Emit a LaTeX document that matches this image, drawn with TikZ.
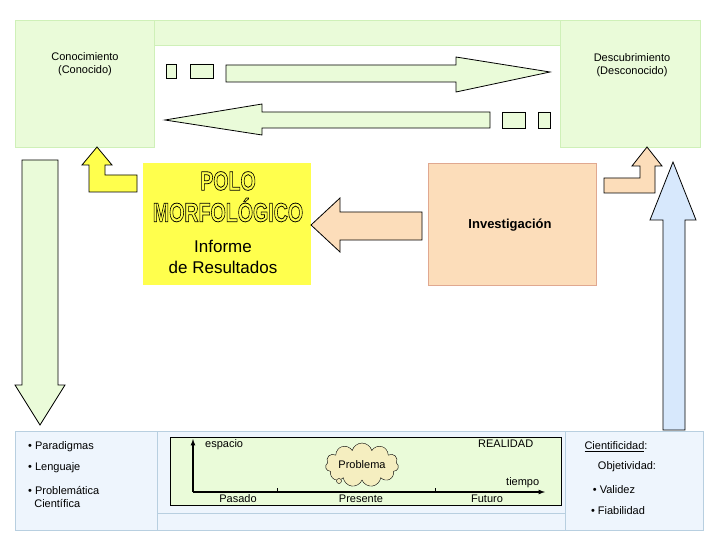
\documentclass[tikz,border=0pt]{standalone}
\usepackage{fontspec}
\setmainfont{Liberation Sans}
\usetikzlibrary{shapes.symbols}
\definecolor{lg}{HTML}{EAFBD9}
\definecolor{lgb}{HTML}{CFF0B8}
\definecolor{pe}{HTML}{FCDDBA}
\definecolor{peb}{HTML}{E0A890}
\definecolor{ye}{HTML}{FFFF4D}
\definecolor{lb}{HTML}{EEF5FD}
\definecolor{lbb}{HTML}{B8CFE0}
\definecolor{bl}{HTML}{D7E8FC}
\definecolor{cl}{HTML}{F5EEC0}
\newcommand{\outl}[1]{\special{pdf:code q 1 Tr 0.8 w}#1\special{pdf:code Q}}
\begin{document}
\begin{tikzpicture}[x=1pt,y=-1pt,font=\fontsize{11}{13}\selectfont,
 gbox/.style={fill=lg,draw=lgb},
 garr/.style={fill=lg,draw=black,line width=0.8pt},
 bbox/.style={fill=lb,draw=lbb,line width=0.8pt},
 t/.style={inner sep=0pt,anchor=west}]
\useasboundingbox (0,0) rectangle (720,540);
\fill[white] (0,0) rectangle (720,540);
% top
\draw[gbox] (15,20) rectangle (154,147);
\draw[gbox] (154,20) rectangle (560,45);
\draw[gbox] (560,20) rectangle (700,147);
\node[align=center] (con) at (85,64) {Conocimiento\\(Conocido)};
\node[align=center] (des) at (632,65) {Descubrimiento\\(Desconocido)};
\draw[garr] (166,64) rectangle (176,78) (190,64) rectangle (213,78);
\draw[garr] (226,65)--(456,65)--(456,57)--(550,72)--(456,92)--(456,82)--(226,82)--cycle;
\draw[garr] (165,120)--(262,104)--(262,112)--(490,112)--(490,128)--(262,128)--(262,135)--cycle;
\draw[garr] (502,112) rectangle (525,128) (538,112) rectangle (550,128);
% left down arrow
\draw[garr] (22,160)--(58,160)--(58,385)--(65,385)--(40,425)--(15,385)--(22,385)--cycle;
% yellow bent arrow
\draw[fill=ye,line width=0.8pt] (137,175)--(105,175)--(105,165)--(112,165)--(97,147)--(82,165)--(89,165)--(89,192)--(137,192)--cycle;
% yellow box
\fill[ye] (143,163) rectangle (311,285);
\node[font=\bfseries\fontsize{28}{28}\selectfont,inner sep=0pt] (polo) at (228,181)
 {\scalebox{0.7}[0.95]{\outl{POLO}}};
\node[font=\bfseries\fontsize{28}{28}\selectfont,inner sep=0pt] (morf) at (228,210)
 {\scalebox{0.7}[0.95]{\outl{MORFOLÓGICO}}};
\node[font=\fontsize{17}{21}\selectfont,align=center] (inf) at (223,257) {Informe\\de Resultados};
% investigacion
\draw[fill=pe,draw=peb] (428,163) rectangle (596,285);
\node[font=\bfseries\fontsize{13}{15}\selectfont] (inv) at (510,225) {Investigación};
\draw[fill=pe,line width=0.8pt] (422,212)--(340,212)--(340,198)--(311,225)--(340,252)--(340,240)--(422,240)--cycle;
\draw[fill=pe,line width=0.8pt] (604,178)--(640,178)--(640,166)--(632,166)--(647,147)--(662,166)--(655,166)--(655,193)--(604,193)--cycle;
% blue arrow
\draw[fill=bl,line width=0.8pt] (663,430)--(663,220)--(650,220)--(673,162)--(696,220)--(685,220)--(685,430)--cycle;
% bottom
\draw[bbox] (15,431) rectangle (157,530);
\draw[bbox] (157,431) rectangle (565,530);
\draw[bbox] (565,431) rectangle (703,530);
\draw[lbb,line width=0.8pt] (157,513)--(565,513);
\draw[fill=lg,draw=black] (170,437) rectangle (561,505);
\node[t] (p1) at (28,447) {• Paradigmas};
\node[t] (p2) at (28,468) {• Lenguaje};
\node[t,align=left] (p3) at (28,497) {• Problemática\\\ \ Científica};
\draw[->,>=latex,line width=1.2pt] (193,492)--(193,439);
\draw[->,>=latex,line width=1.2pt] (193,492)--(545,492);
\draw (277,488)--(277,492) (435,488)--(435,492);
\node[t] (esp) at (205,445) {espacio};
\node[t] (rea) at (478,444) {REALIDAD};
\node[t] (tie) at (506,483) {tiempo};
\node (pas) at (238,499) {Pasado};
\node (pre) at (361,499) {Presente};
\node (fut) at (487,499) {Futuro};
\node[cloud,cloud puffs=11,aspect=2.3,fill=cl,draw=black,inner sep=1pt] (cl) at (362,465) {Problema};
\draw[fill=cl] (339,481) circle (2.5);
\node (c1) at (616,447) {\underline{Cientificidad}:};
\node (c2) at (627,467) {Objetividad:};
\node (c3) at (614,490) {• Validez};
\node (c4) at (618,511) {• Fiabilidad};
\end{tikzpicture}
\end{document}
